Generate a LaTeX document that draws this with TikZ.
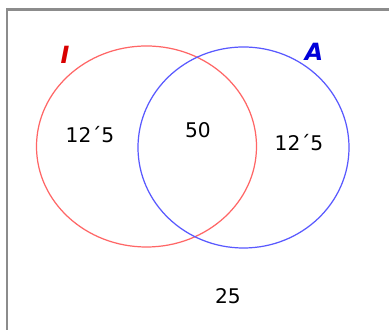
\documentclass[tikz,border=0pt]{standalone}
\usepackage{fontspec}
\setmainfont{DejaVu Sans}
\usepackage{tikz}
\usetikzlibrary{positioning}
\tikzset{
  frame/.style ={draw=black!45, line width=1.2pt},
  setI/.style  ={draw=red!60, line width=0.7pt},
  setA/.style  ={draw=blue!65, line width=0.7pt},
  num/.style   ={font=\fontsize{11.5}{13}\selectfont, inner sep=1pt},
  setname/.style={font=\fontsize{13.5}{15}\selectfont\bfseries\itshape, inner sep=1pt},
}
\begin{document}
\begin{tikzpicture}[x=0.02cm, y=-0.02cm]
  \clip (0,0) rectangle (389,330);
  \fill[white] (0,0) rectangle (389,330);
  \draw[frame] (7,9.5) rectangle (400,345);
  \draw[setI] (146.5,146.5) ellipse [x radius=110, y radius=100.5];
  \draw[setA] (243.5,147.5) ellipse [x radius=105.5, y radius=100.5];
  \node[setname, text=red!85!black] (labI) at (65,55) {I};
  \node[setname, text=blue!85!black] (labA) at (314,52) {A};
  \node[num] (onlyI) at (90,135) {12´5};
  \node[num] (both) at (198,130) {50};
  \node[num] (onlyA) at (299,143) {12´5};
  \node[num] (none) at (228,296) {25};
\end{tikzpicture}
\end{document}
